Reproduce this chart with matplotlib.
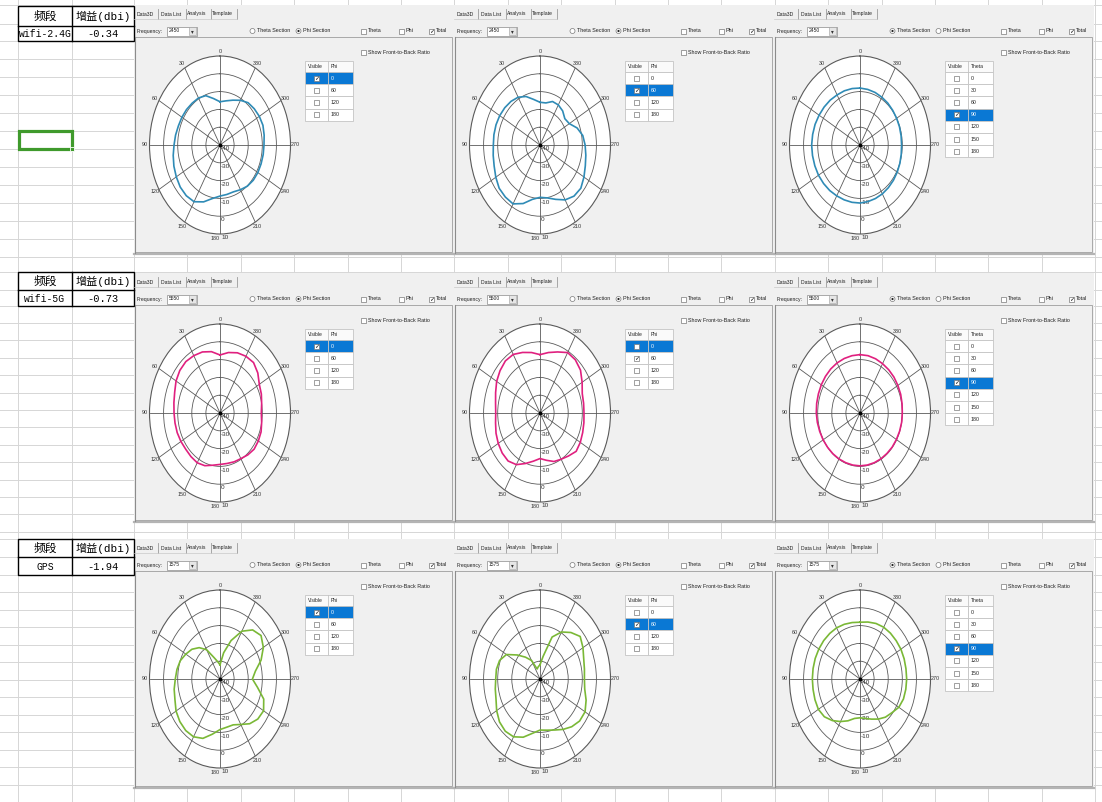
import numpy as np
import matplotlib
matplotlib.use('Agg')
import matplotlib.pyplot as plt
from matplotlib.patches import Rectangle, Circle

# ---------------- data ----------------
bands = ['wifi-2.4G', 'wifi-5G', 'GPS']
gains = ['-0.34', '-0.73', '-1.94']
frequencies = [['2450', '2450', '2450'],
               ['5550', '5500', '5500'],
               ['1575', '1575', '1575']]
header_band = '频段'
header_gain = '增益(dbi)'

angles_deg = np.arange(0, 360, 10)
angle_labels = [str(a) for a in range(0, 360, 30)]
r_ticks = [-40, -30, -20, -10, 0, 10]
phi_rows = ['0', '60', '120', '180']
theta_rows = ['0', '30', '60', '90', '120', '150', '180']

wifi24_phi0 = [-15.7, -13.5, -10.5, -9.5, -9.3, -9.0, -8.8, -8.6, -8.0, -7.4, -6.3, -5.2,
               -4.2, -3.2, -2.8, -3.2, -6.0, -9.5, -11.3, -11.8, -12.0, -11.0, -9.8, -9.2,
               -9.0, -9.0, -8.9, -8.8, -8.2, -7.6, -7.8, -8.3, -9.0, -11.0, -13.2, -14.8]
wifi24_phi60 = [-16.0, -14.0, -11.0, -9.0, -8.0, -7.4, -7.0, -6.8, -6.8, -6.9, -6.3, -5.4,
                -3.8, -2.2, -1.8, -1.8, -5.0, -9.0, -10.6, -9.8, -7.5, -4.4, -2.5, -2.2,
                -4.0, -5.8, -7.0, -8.0, -9.2, -12.0, -16.0, -17.0, -15.0, -14.0, -14.0, -16.0]
wifi24_theta90 = [-8.0, -7.8, -7.6, -7.5, -7.1, -6.8, -6.5, -6.1, -5.9, -5.7, -5.8, -5.9,
                  -6.0, -6.3, -6.6, -7.0, -7.2, -7.3, -7.4, -7.7, -8.0, -8.3, -8.7, -9.1,
                  -9.5, -9.9, -10.3, -10.5, -10.4, -10.2, -10.0, -9.7, -9.3, -9.0, -8.6, -8.3]
wifi5_phi0 = [-7.4, -5.0, -3.5, -2.8, -2.3, -2.8, -4.0, -5.8, -6.8, -7.4, -7.6, -7.7,
              -8.0, -8.3, -8.0, -7.7, -8.5, -10.2, -11.1, -11.2, -10.8, -10.4, -9.3, -8.4,
              -8.6, -9.0, -10.0, -10.7, -10.0, -8.8, -7.8, -5.0, -3.0, -3.2, -4.0, -5.5]
wifi5_phi60 = [-7.2, -5.5, -3.8, -2.0, -1.8, -3.0, -4.5, -6.5, -8.0, -8.6, -8.0, -6.8,
               -5.8, -5.0, -4.8, -6.5, -9.8, -12.5, -14.4, -13.0, -11.0, -10.0, -8.5, -6.5,
               -7.0, -7.8, -8.4, -8.8, -8.6, -8.1, -5.5, -2.5, -1.0, -0.8, -3.5, -5.5]
wifi5_theta90 = [-7.2, -7.3, -7.4, -7.5, -7.7, -8.0, -8.3, -8.6, -8.8, -9.0, -9.3, -9.6,
                 -9.8, -10.0, -10.1, -10.2, -10.3, -10.3, -10.3, -10.3, -10.3, -10.3, -10.3, -10.2,
                 -10.2, -10.1, -10.0, -10.0, -9.7, -9.3, -9.0, -8.6, -8.3, -8.0, -7.6, -7.3]
gps_phi0 = [-32.0, -30.0, -27.0, -21.0, -17.0, -14.0, -12.0, -10.0, -9.0, -8.3, -7.0, -6.0,
            -4.0, -2.8, -2.2, -2.5, -4.5, -8.5, -11.6, -12.5, -12.6, -10.5, -7.2, -5.0,
            -4.3, -7.0, -13.0, -17.0, -14.5, -9.0, -4.5, -2.0, -4.0, -9.0, -17.0, -25.0]
gps_phi60 = [-32.0, -33.0, -34.0, -28.0, -24.0, -19.0, -12.5, -9.5, -8.6, -8.6, -7.8, -6.8,
             -4.5, -2.5, -1.7, -2.5, -5.2, -9.0, -11.3, -10.8, -9.5, -7.3, -5.0, -3.3,
             -3.1, -5.2, -7.8, -8.5, -8.0, -7.0, -4.8, -2.8, -5.9, -9.5, -14.9, -27.0]
gps_theta90 = [-8.1, -7.8, -7.3, -6.8, -6.6, -6.4, -6.3, -6.2, -6.2, -6.2, -6.2, -6.0,
               -5.9, -7.0, -9.5, -12.4, -15.0, -17.5, -18.2, -17.5, -16.0, -14.0, -12.0, -10.5,
               -8.2, -7.2, -7.0, -6.9, -6.9, -6.7, -6.5, -6.5, -6.4, -6.4, -6.8, -7.5]

curves = [[wifi24_phi0, wifi24_phi60, wifi24_theta90],
          [wifi5_phi0, wifi5_phi60, wifi5_theta90],
          [gps_phi0, gps_phi60, gps_theta90]]
row_colors = ['#2f8bb6', '#e0207f', '#7ab836']

# panel states: (section, rows, checked value, highlighted value)
panel_states = [
    [('phi', phi_rows, '0', '0'), ('phi', phi_rows, '60', '60'), ('theta', theta_rows, '90', '90')],
    [('phi', phi_rows, '0', '0'), ('phi', phi_rows, '60', '0'), ('theta', theta_rows, '90', '90')],
    [('phi', phi_rows, '0', '0'), ('phi', phi_rows, '60', '60'), ('theta', theta_rows, '90', '90')],
]

# ---------------- layout ----------------
W, H = 1102, 802
fig = plt.figure(figsize=(W / 100, H / 100), dpi=100)
bg = fig.add_axes([0, 0, 1, 1])
bg.set_xlim(0, W)
bg.set_ylim(H, 0)
bg.axis('off')

UI = 'Liberation Sans'
grid_c = '#d6d6d6'

# spreadsheet grid
col_x = [18, 72, 134] + list(134 + 53.4 * np.arange(1, 19))
row_y = ([5, 24] + list(range(41, 258, 18)) + [272, 290, 306] +
         list(np.arange(323, 540, 17.4)) + [539, 557, 575] + list(np.arange(592, 802, 17.5)))
for x in col_x:
    bg.plot([x, x], [0, H], color=grid_c, lw=0.7, zorder=0)
for y in row_y:
    bg.plot([0, W], [y, y], color=grid_c, lw=0.7, zorder=0)

row_tops = [5, 273, 539]
panel_x = [134, 454, 774]
table_rows = [(6, 26, 41), (272, 290, 306), (539, 557, 575)]

# left tables
for i in range(3):
    t, m, b = table_rows[i]
    bg.add_patch(Rectangle((18, t), 116, b - t, fc='white', ec='black', lw=1.0, zorder=3))
    bg.plot([18, 134], [m, m], color='black', lw=1.0, zorder=4)
    bg.plot([72, 72], [t, b], color='black', lw=1.0, zorder=4)
    bg.text(45, (t + m) / 2, header_band, ha='center', va='center', fontsize=8.5,
            family=['Noto Sans CJK SC'], zorder=5)
    bg.text(103, (t + m) / 2, header_gain, ha='center', va='center', fontsize=8,
            family=['Liberation Mono', 'Noto Sans CJK SC'], zorder=5)
    bg.text(45, (m + b) / 2 + 0.5, bands[i], ha='center', va='center', fontsize=7,
            family=['Liberation Mono'], zorder=5)
    bg.text(103, (m + b) / 2 + 0.5, gains[i], ha='center', va='center', fontsize=7.5,
            family=['Liberation Mono'], zorder=5)

# green selected cell
bg.add_patch(Rectangle((19, 131), 53, 18, fc='none', ec='#3f9a2c', lw=2.3, zorder=6))
bg.add_patch(Rectangle((69.5, 146.5), 4.5, 4.5, fc='#3f9a2c', ec='white', lw=0.6, zorder=7))


def checkbox(x, y, checked):
    bg.add_patch(Rectangle((x, y - 2.5), 5, 5, fc='white', ec='#7a7a7a', lw=0.5, zorder=6))
    if checked:
        bg.text(x + 2.6, y + 0.2, '✓', ha='center', va='center', fontsize=4.5,
                family=['DejaVu Sans'], color='#111111', zorder=7, fontweight='bold')


def radio(x, y, on):
    bg.add_patch(Circle((x + 2.5, y), 2.5, fc='white', ec='#7a7a7a', lw=0.5, zorder=6))
    if on:
        bg.add_patch(Circle((x + 2.5, y), 1.1, fc='#222222', ec='none', zorder=7))


def ui_text(x, y, s, size=3.9, color='#222222', **kw):
    bg.text(x, y, s, ha='left', va='center', fontsize=size, family=[UI], color=color, zorder=7, **kw)


for ri in range(3):
    y0 = row_tops[ri]
    for pi in range(3):
        x0 = panel_x[pi]
        section, rows, checked, hl = panel_states[ri][pi]
        # panel background
        bg.add_patch(Rectangle((x0, y0), 320, 248, fc='#f0f0f0', ec='none', zorder=2))
        bg.add_patch(Rectangle((x0 + 1, y0 + 32), 317, 215, fc='#f0f0f0', ec='#a8a8a8', lw=0.7, zorder=2))
        bg.plot([x0, x0 + 320], [y0 + 248.5, y0 + 248.5], color='#b4b4b4', lw=1.6, zorder=3)
        bg.plot([x0 + 0.5, x0 + 0.5], [y0 + 32, y0 + 248], color='#8c8c8c', lw=0.8, zorder=3)
        # tabs
        for tx, tl, dy in [(3, 'Data3D', 0), (27, 'Data List', 0), (53, 'Analysis', -1), (78, 'Template', 0)]:
            ui_text(x0 + tx, y0 + 9 + dy, tl, size=3.7)
        for sx in [24, 52, 77, 103]:
            bg.plot([x0 + sx, x0 + sx], [y0 + 4, y0 + 14], color='#9a9a9a', lw=0.6, zorder=6)
        bg.plot([x0, x0 + 103], [y0 + 14, y0 + 14], color='#c8c8c8', lw=0.5, zorder=6)
        # frequency row
        fy = y0 + 26
        ui_text(x0 + 3, fy, 'Frequency:', size=3.7)
        bg.add_patch(Rectangle((x0 + 33, fy - 4.5), 30, 9, fc='white', ec='#8a8a8a', lw=0.5, zorder=6))
        bg.add_patch(Rectangle((x0 + 55, fy - 3.8), 7.3, 7.6, fc='#e6e6e6', ec='#9a9a9a', lw=0.4, zorder=7))
        bg.text(x0 + 58.7, fy + 0.3, '▾', ha='center', va='center', fontsize=4, family=['DejaVu Sans'],
                color='#333333', zorder=8)
        ui_text(x0 + 35, fy, frequencies[ri][pi], size=3.6)
        radio(x0 + 116, fy, section == 'theta')
        ui_text(x0 + 123, fy, 'Theta Section')
        radio(x0 + 162, fy, section == 'phi')
        ui_text(x0 + 169, fy, 'Phi Section')
        checkbox(x0 + 227, fy, False)
        ui_text(x0 + 234, fy, 'Theta')
        checkbox(x0 + 265, fy, False)
        ui_text(x0 + 272, fy, 'Phi')
        checkbox(x0 + 295, fy, True)
        ui_text(x0 + 302, fy, 'Total')
        # front-to-back
        checkbox(x0 + 227, y0 + 47, False)
        ui_text(x0 + 234, y0 + 47, 'Show Front-to-Back Ratio')
        # list table
        tx0, tx1, tx2 = x0 + 171, x0 + 194, x0 + 219
        ty = y0 + 56
        rh = 12.2
        bg.add_patch(Rectangle((tx0, ty), tx2 - tx0, 11, fc='#fafafa', ec='#c4c4c4', lw=0.6, zorder=5))
        bg.plot([tx1, tx1], [ty, ty + 11], color='#c4c4c4', lw=0.6, zorder=6)
        ui_text(tx0 + 2.5, ty + 5.5, 'Visible', size=3.6)
        ui_text(tx1 + 3, ty + 5.5, 'Phi' if section == 'phi' else 'Theta', size=3.6)
        for k, lab in enumerate(rows):
            yy = ty + 11 + k * rh
            is_hl = (lab == hl)
            fc = '#0a78d4' if is_hl else 'white'
            bg.add_patch(Rectangle((tx0, yy), tx1 - tx0, rh, fc=fc, ec='#c4c4c4', lw=0.6, zorder=5))
            bg.add_patch(Rectangle((tx1, yy), tx2 - tx1, rh, fc=fc, ec='#c4c4c4', lw=0.6, zorder=5))
            checkbox(tx0 + 9, yy + rh / 2, lab == checked)
            ui_text(tx1 + 3, yy + rh / 2, lab, size=3.8, color='white' if is_hl else '#222222')

        # polar plot
        cx, cy = x0 + 86, y0 + 140
        rx, ry = 70.5, 89
        ax = fig.add_axes([(cx - rx) / W, 1 - (cy + ry) / H, 2 * rx / W, 2 * ry / H], projection='polar')
        ax.set_aspect('auto')
        ax.set_theta_zero_location('N')
        ax.set_theta_direction(1)
        ax.set_ylim(r_ticks[0], r_ticks[-1])
        ax.set_yticks(r_ticks[1:-1])
        ax.set_yticklabels([])
        ax.set_xticks(np.deg2rad(np.arange(0, 360, 30)))
        ax.set_xticklabels(angle_labels, fontsize=3.9, family=UI, color='#333333')
        ax.tick_params(axis='x', pad=-7)
        ax.grid(True, color='#5a5a5a', lw=0.6)
        ax.spines['polar'].set_color('#5a5a5a')
        ax.spines['polar'].set_linewidth(0.8)
        ax.set_facecolor('white')
        for lab in ax.get_xticklabels():
            if lab.get_text() == '180':
                lab.set_ha('right')
        for v in r_ticks:
            ax.annotate(str(v), xy=(np.pi, v), xytext=(0.8, -0.8), textcoords='offset points',
                        fontsize=4.6, family=UI, color='#333333', ha='left', va='top')
        vals = curves[ri][pi]
        th = np.deg2rad(np.append(angles_deg, angles_deg[0]))
        rr = np.append(vals, vals[0])
        ax.plot(th, rr, color=row_colors[ri], lw=1.2, zorder=5)
        ax.plot([0], [r_ticks[0]], 'o', color='black', ms=1.8, zorder=6)

fig.savefig('out.png', dpi=100)
